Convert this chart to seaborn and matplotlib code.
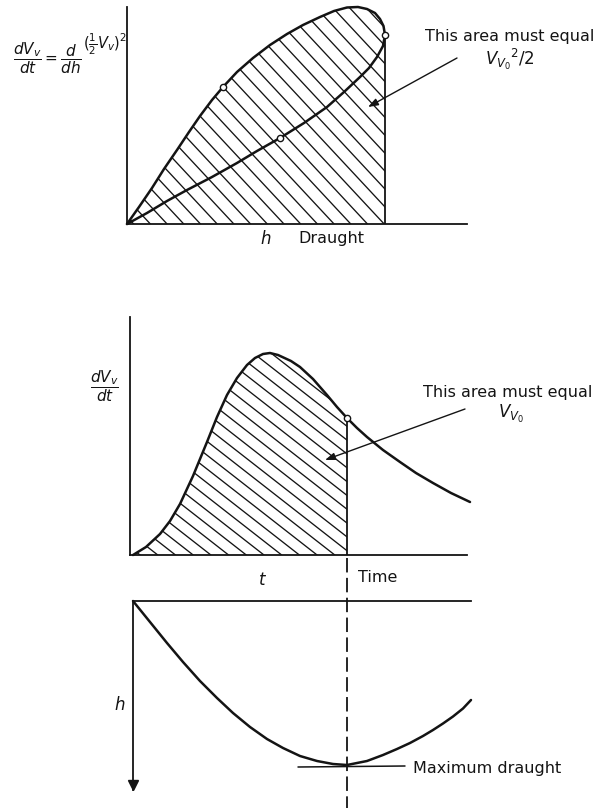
import numpy as np
import pandas as pd
import matplotlib
matplotlib.use("Agg")
import matplotlib.pyplot as plt
from matplotlib.patches import Polygon
import seaborn as sns

# ---- Upper diagram: dV/dt plotted against draught h (closed loop) ----
h_rise = [0.00, 0.12, 0.25, 0.37, 0.50, 0.62, 0.73, 0.85, 0.96, 1.10, 1.26, 1.43,
          1.60, 1.76, 1.93, 2.07, 2.20, 2.31, 2.40, 2.48, 2.53, 2.565, 2.58]
a_rise = [0.00, 0.17, 0.36, 0.55, 0.74, 0.92, 1.08, 1.24, 1.37, 1.52, 1.66, 1.79,
          1.90, 1.99, 2.07, 2.13, 2.165, 2.17, 2.15, 2.11, 2.05, 1.98, 1.89]
h_return = [2.58, 2.56, 2.50, 2.42, 2.33, 2.17, 2.00, 1.77, 1.53, 1.30, 1.10,
            0.85, 0.60, 0.40, 0.20, 0.00]
a_return = [1.89, 1.78, 1.67, 1.56, 1.47, 1.32, 1.17, 1.01, 0.86, 0.73, 0.61,
            0.47, 0.34, 0.23, 0.11, 0.00]
h_marks = [0.96, 1.53, 2.58]
a_marks = [1.37, 0.86, 1.89]
h_end = 2.58

# ---- Middle diagram: dV/dt against time t ----
t_curve = [0.00, 0.13, 0.27, 0.37, 0.47, 0.60, 0.74, 0.84, 0.94, 1.04, 1.14, 1.22,
           1.30, 1.37, 1.45, 1.58, 1.67, 1.80, 1.94, 2.04, 2.14, 2.24, 2.34, 2.50,
           2.67, 2.83, 3.00, 3.18, 3.37]
a_curve = [0.00, 0.08, 0.21, 0.34, 0.51, 0.79, 1.13, 1.38, 1.60, 1.77, 1.90, 1.97,
           2.01, 2.02, 2.00, 1.94, 1.88, 1.76, 1.60, 1.48, 1.37, 1.27, 1.18, 1.05,
           0.93, 0.82, 0.72, 0.62, 0.53]
t_stop = 2.14
a_stop = 1.37

# ---- Lower diagram: draught h against time t ----
t_draught = [0.00, 0.17, 0.34, 0.50, 0.67, 0.84, 1.00, 1.17, 1.34, 1.50, 1.67, 1.84,
             2.00, 2.14, 2.34, 2.50, 2.64, 2.77, 2.90, 3.00, 3.10, 3.20, 3.30, 3.38]
h_draught = [0.00, 0.21, 0.42, 0.61, 0.80, 0.97, 1.12, 1.26, 1.38, 1.47, 1.55, 1.60,
             1.63, 1.64, 1.60, 1.54, 1.48, 1.42, 1.35, 1.29, 1.225, 1.155, 1.075, 0.99]
h_max = 1.64

INK = "#141414"
W, H = 604, 808

sns.set_theme(style="white")
plt.rcParams["font.family"] = ["DejaVu Sans"]
plt.rcParams["mathtext.fontset"] = "dejavusans"

fig = plt.figure(figsize=(W / 100, H / 100), dpi=100)


def frame(l, t, r, b):
    return [l / W, 1 - b / H, (r - l) / W, (b - t) / H]


def style(ax, spines):
    for side, sp in ax.spines.items():
        sp.set_visible(side in spines)
        sp.set_color(INK)
        sp.set_linewidth(1.3)
    ax.set_xticks([])
    ax.set_yticks([])
    ax.set_xlabel("")
    ax.set_ylabel("")
    ax.patch.set_alpha(0)


def hatch(ax, xs, ys, step, angle):
    poly = Polygon(np.column_stack([xs, ys]), closed=True,
                   facecolor="none", edgecolor="none")
    ax.add_patch(poly)
    y0, y1 = min(ys), max(ys)
    run = (y1 - y0) / np.tan(np.radians(angle))
    for c in np.arange(min(xs) + step * 0.4, max(xs) + run, step):
        ln, = ax.plot([c - run, c], [y1, y0], color=INK, lw=0.95)
        ln.set_clip_path(poly)


def curve(ax, x, y, **kw):
    df = pd.DataFrame({"x": x, "y": y})
    sns.lineplot(data=df, x="x", y="y", sort=False, estimator=None,
                 color=INK, lw=1.8, ax=ax, **kw)
    ax.lines[-1].set_solid_joinstyle("round")
    ax.lines[-1].set_clip_on(False)


# ---------------- upper diagram ----------------
ax1 = fig.add_axes(frame(127, 7, 467, 224))
ax1.set_xlim(0, 3.40)
ax1.set_ylim(0, 2.17)
hatch(ax1, h_rise + [h_end, 0.0], a_rise + [0.0, 0.0], 0.167, 47)
curve(ax1, h_rise + h_return[1:], a_rise + a_return[1:])
ax1.plot([h_end, h_end], [0, a_rise[-1]], color=INK, lw=1.3)
ax1.plot(h_marks, a_marks, ls="none", marker="o", ms=4.5, mfc="white",
         mec=INK, mew=1.0, clip_on=False, zorder=5)
style(ax1, ["left", "bottom"])
ax1.annotate("", xy=(2.41, 1.17), xytext=(3.30, 1.66),
             arrowprops=dict(arrowstyle="-|>,head_length=0.5,head_width=0.18",
                             color=INK, lw=1.0, shrinkA=0, shrinkB=0))
ax1.text(3.83, 1.88, "This area must equal", ha="center", va="center",
         fontsize=11.5, color=INK)
ax1.text(3.83, 1.65, r"$V_{V_0}{}^2/2$", ha="center", va="center",
         fontsize=12, color=INK)
ax1.text(1.39, -0.15, r"$h$", ha="center", va="center", fontsize=12, color=INK)
ax1.text(1.71, -0.15, "Draught", ha="left", va="center", fontsize=11.5, color=INK)

fig.text(47 / W, 1 - 58 / H, r"$\dfrac{dV_v}{dt}=\dfrac{d}{dh}$",
         ha="center", va="center", fontsize=11, color=INK)
fig.text(83 / W, 1 - 44 / H, r"$(\frac{1}{2}V_v)^2$",
         ha="left", va="center", fontsize=10.5, color=INK)

# ---------------- middle diagram ----------------
ax2 = fig.add_axes(frame(130, 317, 467, 555))
ax2.set_xlim(-0.03, 3.34)
ax2.set_ylim(0, 2.38)
n_in = t_curve.index(t_stop) + 1
hatch(ax2, t_curve[:n_in] + [t_stop], a_curve[:n_in] + [0.0], 0.177, 38)
curve(ax2, t_curve, a_curve)
ax2.plot([t_stop, t_stop], [0, a_stop], color=INK, lw=1.3)
ax2.plot([t_stop], [a_stop], ls="none", marker="o", ms=4.5, mfc="white",
         mec=INK, mew=1.0, zorder=5, clip_on=False)
style(ax2, ["left", "bottom"])
ax2.annotate("", xy=(1.92, 0.95), xytext=(3.32, 1.46),
             arrowprops=dict(arrowstyle="-|>,head_length=0.5,head_width=0.18",
                             color=INK, lw=1.0, shrinkA=0, shrinkB=0))
ax2.text(3.75, 1.63, "This area must equal", ha="center", va="center",
         fontsize=11.5, color=INK)
ax2.text(3.78, 1.41, r"$V_{V_0}$", ha="center", va="center",
         fontsize=12, color=INK)
ax2.text(1.30, -0.25, r"$t$", ha="center", va="center", fontsize=12, color=INK)
ax2.text(2.25, -0.23, "Time", ha="left", va="center", fontsize=11.5, color=INK)

fig.text(104 / W, 1 - 386 / H, r"$\dfrac{dV_v}{dt}$",
         ha="center", va="center", fontsize=11, color=INK)

# ---------------- lower diagram ----------------
ax3 = fig.add_axes(frame(133, 601, 471, 790))
ax3.set_xlim(0, 3.38)
ax3.set_ylim(1.89, 0)
curve(ax3, t_draught, h_draught)
ax3.plot([t_stop - 0.49, t_stop + 0.58], [h_max + 0.02, h_max + 0.01],
         color=INK, lw=1.1)
ax3.plot([t_stop, t_stop], [-0.43, 2.07], color=INK, lw=1.3,
         ls=(0, (8, 3)), clip_on=False)
ax3.plot([0], [1.84], marker="v", ms=7, color=INK, clip_on=False)
style(ax3, ["left", "top"])
ax3.text(2.80, h_max + 0.03, "Maximum draught", ha="left", va="center",
         fontsize=11.5, color=INK)
ax3.text(-0.13, 1.04, r"$h$", ha="center", va="center", fontsize=12, color=INK)

fig.savefig("out.png", dpi=100, facecolor="white")
